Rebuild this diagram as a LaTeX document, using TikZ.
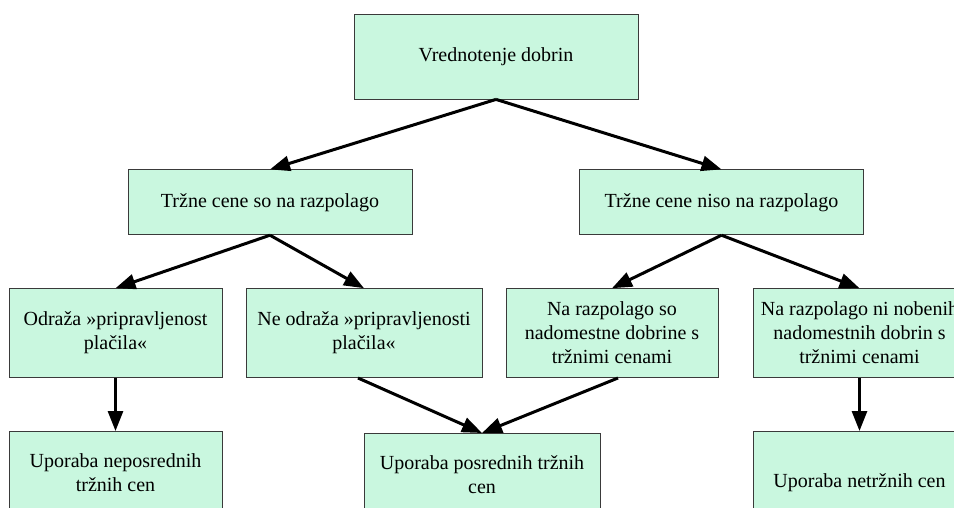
\documentclass[tikz,border=0pt]{standalone}
\usepackage{fontspec}
\setmainfont{Liberation Serif}
\usetikzlibrary{arrows.meta, positioning}
\definecolor{mmint}{HTML}{C9F7DF}
\definecolor{medge}{HTML}{3A3A3A}
\tikzstyle{goal} = [rectangle, minimum width = 284pt, minimum height = 85pt, inner sep = 0pt, text centered, draw = medge, line width = 0.8pt, fill = mmint]
\tikzstyle{branch} = [rectangle, minimum width = 284pt, minimum height = 65pt, inner sep = 0pt, text centered, draw = medge, line width = 0.8pt, fill = mmint]
\tikzstyle{condition} = [rectangle, minimum width = 213pt, minimum height = 89pt, inner sep = 0pt, text centered, draw = medge, line width = 0.8pt, fill = mmint]
\tikzstyle{method} = [rectangle, minimum width = 213pt, minimum height = 82pt, inner sep = 0pt, text centered, draw = medge, line width = 0.8pt, fill = mmint]
\tikzstyle{link} = [line width = 3pt, -{Triangle[length = 20pt, width = 15pt]}]

\begin{document}
\begin{tikzpicture}[align=center, node distance = 53pt, font=\fontsize{20}{24}\selectfont]
  \path[use as bounding box, clip] (0,0) rectangle (954pt,-507pt);
  \node (value) [goal] at (496pt,-56.5pt) {Vrednotenje dobrin};
  \node (market) [branch, below = 70pt of value, xshift = -226pt] {Tržne cene so na razpolago};
  \node (nomarket) [branch, below = 70pt of value, xshift = 225.5pt] {Tržne cene niso na razpolago};
  \draw [link] (value.south) -- (market.north);
  \draw [link] (value.south) -- (nomarket.north);
  \node (wtp) [condition, below = of market, xshift = -154.5pt] {Odraža »pripravljenost\\plačila«};
  \node (nowtp) [condition, minimum width = 236pt, below = of market, xshift = 94pt] {Ne odraža »pripravljenosti\\plačila«};
  \draw [link] (market.south) -- (wtp.north);
  \draw [link] (market.south) -- (nowtp.north);
  \node (subst) [condition, minimum width = 212pt, below = of nomarket, xshift = -109.5pt] {Na razpolago so\\nadomestne dobrine s\\tržnimi cenami};
  \node (nosubst) [condition, below = of nomarket, xshift = 138pt] {Na razpolago ni nobenih\\nadomestnih dobrin s\\tržnimi cenami};
  \draw [link] (nomarket.south) -- (subst.north);
  \draw [link] (nomarket.south) -- (nosubst.north);
  \node (direct) [method, below = of wtp] {Uporaba neposrednih\\tržnih cen};
  \node (indirect) [method, minimum width = 236pt, below = 55pt of nowtp, xshift = 118pt] {Uporaba posrednih tržnih\\cen};
  \node (nonmarket) [method, minimum height = 102pt, below = of nosubst] {Uporaba netržnih cen};
  \draw [link] (wtp.south) -- (direct.north);
  \draw [link] ([xshift = -6pt]nowtp.south) -- (indirect.north);
  \draw [link] ([xshift = 6pt]subst.south) -- (indirect.north);
  \draw [link] (nosubst.south) -- (nonmarket.north);
\end{tikzpicture}
\end{document}
